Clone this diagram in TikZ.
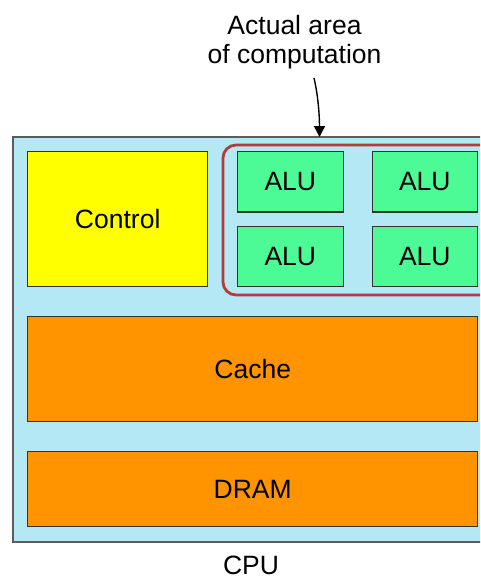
\documentclass[tikz,border=0pt]{standalone}
\usepackage{fontspec}
\setmainfont{Liberation Sans}
\usetikzlibrary{arrows.meta}
\definecolor{cpublue}{HTML}{B5E8F5}
\definecolor{ctrlyellow}{HTML}{FFFF00}
\definecolor{alugreen}{HTML}{4CFB96}
\definecolor{memorange}{HTML}{FF9300}
\definecolor{regionred}{HTML}{B23B3B}
\definecolor{edgegray}{HTML}{333333}
\tikzset{
  unit/.style={draw=edgegray, line width=1.4pt, inner sep=0pt, font=\fontsize{26.5}{30}\selectfont},
  ctrlbox/.style={unit, fill=ctrlyellow},
  alubox/.style={unit, fill=alugreen},
  membox/.style={unit, fill=memorange},
  caption/.style={font=\fontsize{26.5}{29}\selectfont, align=center, inner sep=0pt}
}
\begin{document}
\begin{tikzpicture}[x=1pt, y=-1pt]
  \useasboundingbox (0,0) rectangle (480,579);
  \begin{scope}
    \clip (0,0) rectangle (480,579);
    % CPU die
    \draw[fill=cpublue, draw=edgegray!80, line width=1.4pt] (13,137) rectangle (495,542);
    % region holding the ALUs
    \draw[regionred, line width=2.8pt, rounded corners=13pt] (223,145) rectangle (500,295);
  \end{scope}
  \node[coordinate] (cputop) at (319.5,137) {};

  \node[ctrlbox, minimum width=180pt, minimum height=135pt] (control) at (117.7,219.2) {Control};

  \node[alubox, minimum width=106pt, minimum height=60.3pt] (alu1) at (290.3,181.8) {ALU};
  \node[alubox, minimum width=105pt, minimum height=60.3pt] (alu2) at (424.8,181.8) {ALU};
  \node[alubox, minimum width=106pt, minimum height=60pt] (alu3) at (290.3,256.7) {ALU};
  \node[alubox, minimum width=105pt, minimum height=60pt] (alu4) at (424.8,256.7) {ALU};

  \node[membox, minimum width=450pt, minimum height=105pt] (cache) at (252.7,369.2) {Cache};
  \node[membox, minimum width=450pt, minimum height=75pt] (dram) at (252.7,489.2) {DRAM};

  \node[caption, anchor=base, text depth=0pt] (cpu) at (251,574.5) {CPU};

  \node[caption, anchor=base] (note) at (294.5,63) {Actual area\\of computation};
  \node[coordinate] (notefoot) at (314,78) {};

  \draw[-{Triangle[length=11pt, width=11pt]}, line width=1.4pt]
    (notefoot) .. controls (318,95) and (319.5,115) .. (cputop);
\end{tikzpicture}
\end{document}
